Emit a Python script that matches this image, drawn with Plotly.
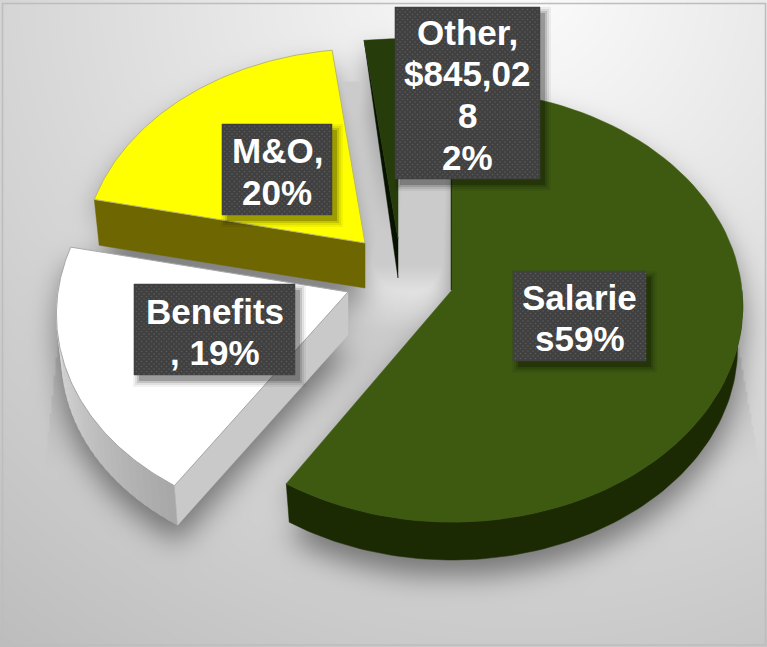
import numpy as np
import plotly.graph_objects as go

# ---- data (share of total, %)
categories = ["Salaries", "Benefits", "M&O", "Other"]
shares = [59.0, 19.4, 19.6, 2.0]

top_colors = ["#3d5a10", "#ffffff", "#ffff00", "#263d0b"]
wall_colors = ["#1c2a04", "#c9c9c9", "#6e6600", "#071200"]

# label lines, box (x0, x1, y0, y1) and text centres per slice
label_lines = [["Salarie", "s59%"], ["Benefits", ", 19%"], ["M&O,", "20%"],
               ["Other,", "$845,02", "8", "2%"]]
label_boxes = [(513, 646, 271, 361), (134, 295, 284, 375), (222, 332, 124, 215), (395, 540, 7, 179)]
label_line_y = [[297, 338], [311, 352], [150, 192], [32, 73, 115, 157]]

# projection settings of the tilted, exploded pie
W, H = 767, 647
apexes = [(452, 290), (348, 292), (365, 243), (398, 239)]
RX, RY, K = 290.0, 215.0, 0.074
DEPTH = [42, 43, 45, 39]
SCALE = [1.0, 1.0, 0.97, 1.0]
SKEW = [0.0, -0.04, 0.0, 0.0]
SHRINK = 0.982


def proj(deg, i):
    apex = apexes[i]
    t = np.radians(np.asarray(deg, dtype=float))
    u, v = np.sin(t), -np.cos(t)
    s = SCALE[i] / (1 - K * v)
    dy = RY * v * s
    return apex[0] + RX * u * s + SKEW[i] * dy, apex[1] + dy


def lower(x, y, i):
    apex = apexes[i]
    return apex[0] + SHRINK * (np.asarray(x) - apex[0]), apex[1] + SHRINK * (np.asarray(y) - apex[1]) + DEPTH[i]


cum = np.cumsum([0] + shares) / sum(shares) * 360
start, end = cum[:-1], cum[1:]

faces = []
for i, a in enumerate(apexes):
    th = np.linspace(start[i], end[i], 90)
    ax, ay = proj(th, i)
    faces.append((np.r_[a[0], ax, a[0]], np.r_[a[1], ay, a[1]]))


# ---- background: soft gradient plus blurred shadow of the slices
step = 2
gx = np.arange(0, W + step, step)
gy = np.arange(0, H + step, step)
X, Y = np.meshgrid(gx, gy)


def inside(px, py):
    res = np.zeros(X.shape, bool)
    n = len(px)
    for j in range(n):
        x1, y1, x2, y2 = px[j], py[j], px[(j + 1) % n], py[(j + 1) % n]
        if y1 == y2:
            continue
        cond = ((y1 > Y) != (y2 > Y)) & (X < (x2 - x1) * (Y - y1) / (y2 - y1) + x1)
        res ^= cond
    return res


mask = np.zeros(X.shape)
for i, (fx, fy) in enumerate(faces):
    bx, by = lower(fx, fy, i)
    mask = np.maximum(mask, inside(fx, fy + 16).astype(float))
    mask = np.maximum(mask, inside(bx, by + 16).astype(float))

sigma = 14 / step
fy_ = np.fft.fftfreq(X.shape[0])[:, None]
fx_ = np.fft.rfftfreq(X.shape[1])[None, :]
kern = np.exp(-2 * (np.pi * sigma) ** 2 * (fx_ ** 2 + fy_ ** 2))
blur = np.fft.irfft2(np.fft.rfft2(mask) * kern, s=X.shape)

d = np.hypot(X - 520, Y + 20)
base = 252 - 0.075 * d
# faint straight-sided cast shadow at both flanks of the pie
xl = 60 - (Y - 320) * 0.108
xr = 735 + (Y - 330) * 0.18
flank = ((X > xl) & (X < xr)) * np.clip((470 - Y) / 110, 0, 1) * np.clip((Y - 290) / 40, 0, 1)
shade = base * (1 - 0.09 * flank) * (1 - 0.44 * np.clip(blur, 0, 1))
cap = 203 + 30 * np.clip((Y - 265) / 35, 0, 1)
shade = np.where((X > 335) & (X < 455) & (Y > 80) & (Y < 300), np.minimum(shade, cap), shade)
z = np.clip(shade, 0, 255).round().astype(np.uint8)

fig = go.Figure()
fig.add_trace(go.Heatmap(x=gx, y=gy, z=z, zmin=0, zmax=255, zsmooth="best", showscale=False, hoverinfo="skip",
                         colorscale=[[0, "#000000"], [1, "#ffffff"]]))


def poly(px, py, color, line=None, width=0, name=None):
    fig.add_trace(go.Scatter(x=px, y=py, mode="lines", fill="toself", fillcolor=color,
                             line=dict(color=line or color, width=width if line else 0.5),
                             showlegend=False, hoverinfo="skip" if name is None else "text",
                             text=name))


for i in [3, 2, 1, 0]:
    a = apexes[i]
    tipx, tipy = proj(start[i], i)
    endx, endy = proj(end[i], i)
    if categories[i] == "Salaries":
        th = np.linspace(90, end[i], 90)
        ux, uy = proj(th, i)
        lx, ly = lower(ux, uy, i)
        poly(np.r_[ux, lx[::-1]], np.r_[uy, ly[::-1]], wall_colors[i])
        # thin dark inner face along the vertical cut of the slice
        fig.add_trace(go.Scatter(x=[a[0] - 0.5, a[0] - 0.5], y=[proj(0, i)[1], a[1]], mode="lines",
                                 line=dict(color=wall_colors[i], width=1.5), hoverinfo="skip", showlegend=False))
    elif categories[i] == "Benefits":
        n = 30
        th = np.linspace(start[i], 272, n + 1)
        grays = np.linspace(168, 228, n).astype(int)
        for j in range(n):
            tt = np.linspace(th[j], min(th[j + 1] + 0.5, 272), 4)
            ux, uy = proj(tt, i)
            lx, ly = lower(ux, uy, i)
            poly(np.r_[ux, lx[::-1]], np.r_[uy, ly[::-1]], f"rgb({grays[j]},{grays[j]},{grays[j]})")
        lx0, ly0 = lower([tipx, a[0]], [tipy, a[1]], i)
        poly([tipx, a[0], lx0[1], lx0[0], tipx], [tipy, a[1], ly0[1], ly0[0], tipy], wall_colors[i])
    elif categories[i] == "M&O":
        lx0, ly0 = lower([tipx, a[0]], [tipy, a[1]], i)
        poly([tipx, a[0], lx0[1], lx0[0], tipx], [tipy, a[1], ly0[1], ly0[0], tipy], wall_colors[i])
    else:
        lx0, ly0 = lower([a[0]], [a[1]], i)
        poly([tipx, a[0], lx0[0], tipx], [tipy, a[1], ly0[0], tipy], wall_colors[i])
    fx, fy = faces[i]
    edge = {"Benefits": "#a8a8a8", "M&O": "#b8b870"}.get(categories[i])
    poly(fx, fy, top_colors[i], line=edge, width=1 if edge else 0,
         name=f"{categories[i]}: {shares[i]:.0f}%")

# ---- label boxes with drop shadow and dotted texture
for i, (x0, x1, y0, y1) in enumerate(label_boxes):
    for grow, alpha in ((6, 0.05), (4, 0.08), (2, 0.12), (0, 0.2)):
        poly([x0 + 5 - grow, x1 + 5 + grow, x1 + 5 + grow, x0 + 5 - grow, x0 + 5 - grow],
             [y0 + 6 - grow, y0 + 6 - grow, y1 + 6 + grow, y1 + 6 + grow, y0 + 6 - grow],
             f"rgba(0,0,0,{alpha})", line="rgba(0,0,0,0)", width=0)
    poly([x0, x1, x1, x0, x0], [y0, y0, y1, y1, y0], "#404040")
    dx, dy = [], []
    for r, yy in enumerate(np.arange(y0 + 2.5, y1, 2.5)):
        for xx in np.arange(x0 + 2.5 + (r % 2) * 2.5, x1, 5):
            dx.append(xx)
            dy.append(yy)
    fig.add_trace(go.Scatter(x=dx, y=dy, mode="markers", hoverinfo="skip", showlegend=False,
                             marker=dict(size=1.6, color="#5c5c5c", line=dict(width=0))))
    for line, yc in zip(label_lines[i], label_line_y[i]):
        fig.add_annotation(x=(x0 + x1) / 2, y=yc, xref="x", yref="y", text=line, showarrow=False,
                           font=dict(family="Liberation Sans", size=35, color="#ffffff", weight=700),
                           xanchor="center", yanchor="middle")

fig.add_shape(type="rect", x0=2.5, x1=765.5, y0=3.5, y1=645, xref="x", yref="y",
              line=dict(color="#bdbdbd", width=1.5), layer="above")
fig.update_xaxes(range=[0, W], visible=False, domain=[0, 1], fixedrange=True)
fig.update_yaxes(range=[H, 0], visible=False, domain=[0, 1], fixedrange=True)
fig.update_layout(width=W, height=H, margin=dict(l=0, r=0, t=0, b=0), paper_bgcolor="#ffffff",
                  plot_bgcolor="#ffffff", showlegend=False)
fig.write_html("out.html", config={"displayModeBar": False},
               post_script="document.body.style.margin='0';document.body.style.overflow='hidden';")
